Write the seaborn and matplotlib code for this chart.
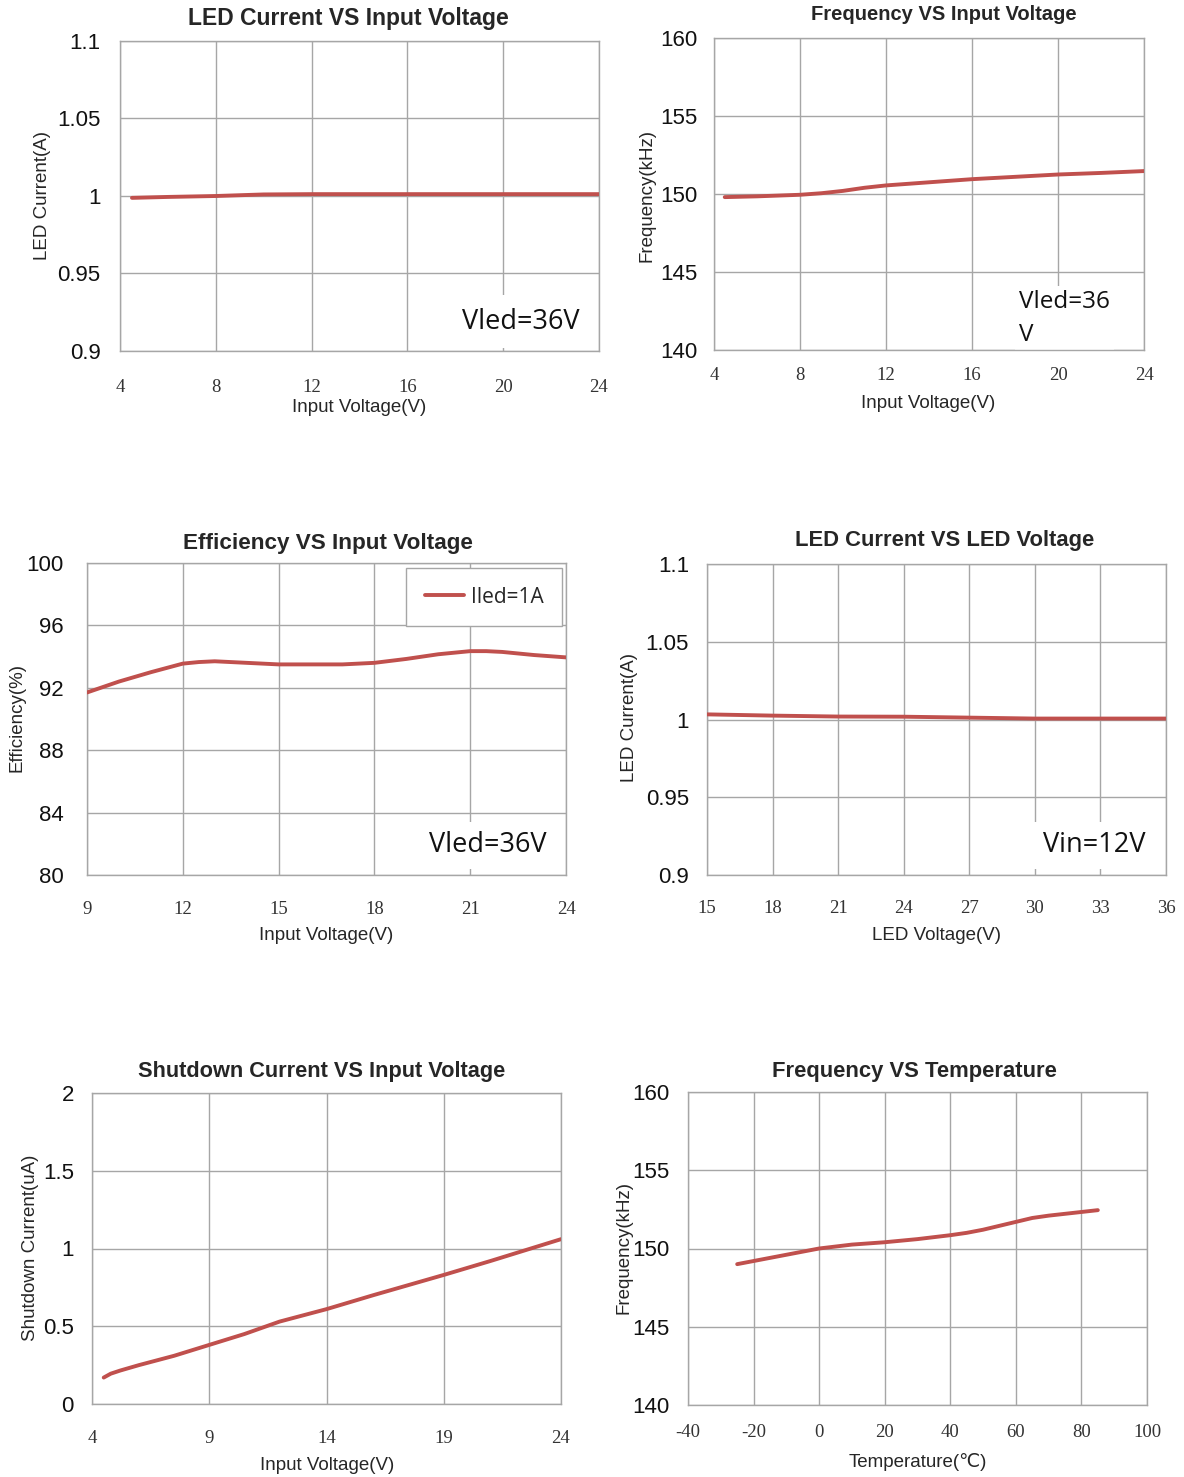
import numpy as np
import matplotlib
matplotlib.use("Agg")
import matplotlib.pyplot as plt
import seaborn as sns

# ---------------------------
# Data
# ---------------------------
vin_a = [4.5, 6, 8, 10, 12, 16, 20, 24]
iled_a = [0.9988, 0.9994, 1.0000, 1.0010, 1.0012, 1.0012, 1.0012, 1.0012]

vin_f = [4.5, 6, 8, 9, 10, 11, 12, 14, 16, 18, 20, 22, 24]
freq_v = [149.8, 149.85, 149.95, 150.05, 150.2, 150.4, 150.55, 150.75, 150.95, 151.1, 151.25, 151.35, 151.47]

vin_e = [9, 10, 11, 12, 12.5, 13, 14, 15, 16, 17, 18, 19, 20, 21, 21.5, 22, 23, 24]
eff = [91.7, 92.4, 93.0, 93.55, 93.65, 93.7, 93.6, 93.5, 93.5, 93.5, 93.6, 93.85, 94.15, 94.35, 94.35, 94.3, 94.1, 93.95]

vled = [15, 18, 21, 24, 27, 30, 33, 36]
iled_v = [1.0033, 1.0025, 1.0019, 1.0018, 1.0012, 1.0006, 1.0006, 1.0006]

vin_s = [4.5, 4.8, 5.2, 6, 7.5, 9, 10.5, 12, 14, 16, 19, 21, 24]
ishdn = [0.17, 0.195, 0.215, 0.25, 0.31, 0.38, 0.45, 0.53, 0.61, 0.70, 0.83, 0.92, 1.06]

temp = [-25, -10, 0, 10, 20, 30, 40, 45, 50, 55, 60, 65, 70, 85]
freq_t = [149.0, 149.6, 150.0, 150.25, 150.4, 150.6, 150.85, 151.0, 151.2, 151.45, 151.7, 151.95, 152.1, 152.45]

# ---------------------------
# Style
# ---------------------------
sns.set_style("white")
plt.rcParams["font.family"] = ["Liberation Sans", "DejaVu Sans"]
plt.rcParams["axes.unicode_minus"] = False

RED = "#c0504d"
GRID = "#a6a6a6"
W, H = 1184, 1477

fig = plt.figure(figsize=(W / 100, H / 100), dpi=100)


def px(x, y):
    return x / W, 1 - y / H


def make_axes(l, t, r, b, xlim, xstep, ylim, ystep, ylabels, xpad, ypad):
    ax = fig.add_axes([l / W, 1 - b / H, (r - l) / W, (b - t) / H])
    ax.set_xlim(*xlim)
    ax.set_ylim(*ylim)
    ax.set_xticks(np.arange(xlim[0], xlim[1] + 0.001, xstep))
    yt = np.arange(ylim[0], ylim[1] + ystep / 2, ystep)
    ax.set_yticks(yt)
    ax.set_yticklabels(ylabels)
    ax.grid(True, color=GRID, linewidth=1.0)
    ax.set_axisbelow(True)
    for s in ax.spines.values():
        s.set_color(GRID)
        s.set_linewidth(1.0)
    ax.tick_params(axis="both", length=0)
    ax.tick_params(axis="y", labelsize=16, pad=ypad, labelcolor="#111111")
    ax.tick_params(axis="x", labelsize=13.5, pad=xpad, labelcolor="#333333")
    for lab in ax.get_xticklabels():
        lab.set_family("Liberation Serif")
    ax.set_xlabel("")
    ax.set_ylabel("")
    return ax


def labels(title, tsize, tpos, ylab, ypos, xlab, xpos):
    fig.text(*px(*tpos), title, ha="center", va="center", fontsize=tsize, fontweight="bold")
    fig.text(*px(*ypos), ylab, ha="center", va="center", fontsize=13.5, rotation=90)
    fig.text(*px(*xpos), xlab, ha="center", va="center", fontsize=13.5,
             family=["Liberation Sans", "DejaVu Sans"])


def note(ax, x, y, s, ha="right", pad=7, size=19.5):
    # white box sits over the grid but under the frame and the curve
    ax.text(x, y, s, transform=ax.transAxes, ha=ha, va="center", fontsize=size,
            family="Open Sans", color="#111111", linespacing=1.5,
            bbox=dict(facecolor="white", edgecolor="none", pad=pad), zorder=2)


# ---------------------------
# 1. LED Current VS Input Voltage
# ---------------------------
ax1 = make_axes(120, 41, 599, 351, (4, 24), 4, (0.9, 1.1), 0.05,
                ["0.9", "0.95", "1", "1.05", "1.1"], 20, 14)
sns.lineplot(x=vin_a, y=iled_a, ax=ax1, color=RED, linewidth=2.8, zorder=4)
note(ax1, 0.96, 0.095, "Vled=36V", pad=9)
labels("LED Current VS Input Voltage", 16.5, (348, 19), "LED Current(A)", (43, 196),
       "Input Voltage(V)", (359, 407))

# ---------------------------
# 2. Frequency VS Input Voltage
# ---------------------------
ax2 = make_axes(714, 38, 1144, 350, (4, 24), 4, (140, 160), 5,
                ["140", "145", "150", "155", "160"], 12, 12)
sns.lineplot(x=vin_f, y=freq_v, ax=ax2, color=RED, linewidth=2.8, zorder=4)
note(ax2, 0.71, 0.10, "Vled=36\nV", ha="left", pad=3, size=17.5)
labels("Frequency VS Input Voltage", 14.5, (944, 14), "Frequency(kHz)", (647, 195),
       "Input Voltage(V)", (928, 403))

# ---------------------------
# 3. Efficiency VS Input Voltage
# ---------------------------
ax3 = make_axes(87, 563, 566, 875, (9, 24), 3, (80, 100), 4,
                ["80", "84", "88", "92", "96", "100"], 19, 17)
sns.lineplot(x=vin_e, y=eff, ax=ax3, color=RED, linewidth=2.8, zorder=4, label="Iled=1A")
leg = ax3.legend(loc="upper right", bbox_to_anchor=(0.992, 0.984), borderaxespad=0,
                 fancybox=False, framealpha=1, edgecolor=GRID, borderpad=0.9,
                 handlelength=1.9, handletextpad=0.3,
                 prop={"family": "Open Sans", "size": 15})
leg.get_frame().set_linewidth(1.0)
note(ax3, 0.96, 0.095, "Vled=36V")
labels("Efficiency VS Input Voltage", 16.2, (328, 543), "Efficiency(%)", (17, 718),
       "Input Voltage(V)", (326, 935))

# ---------------------------
# 4. LED Current VS LED Voltage
# ---------------------------
ax4 = make_axes(707, 564, 1166, 875, (15, 36), 3, (0.9, 1.1), 0.05,
                ["0.9", "0.95", "1", "1.05", "1.1"], 18, 13)
sns.lineplot(x=vled, y=iled_v, ax=ax4, color=RED, linewidth=2.8, zorder=4)
note(ax4, 0.955, 0.095, "Vin=12V")
labels("LED Current VS LED Voltage", 15.8, (945, 541), "LED Current(A)", (630, 718),
       "LED Voltage(V)", (937, 935))

# ---------------------------
# 5. Shutdown Current VS Input Voltage
# ---------------------------
ax5 = make_axes(92, 1093, 561, 1404, (4, 24), 5, (0, 2), 0.5,
                ["0", "0.5", "1", "1.5", "2"], 19, 13)
sns.lineplot(x=vin_s, y=ishdn, ax=ax5, color=RED, linewidth=2.8, zorder=4)
labels("Shutdown Current VS Input Voltage", 15.7, (322, 1072), "Shutdown Current(uA)", (31, 1248),
       "Input Voltage(V)", (327, 1465))

# ---------------------------
# 6. Frequency VS Temperature
# ---------------------------
ax6 = make_axes(688, 1092, 1147, 1405, (-40, 100), 20, (140, 160), 5,
                ["140", "145", "150", "155", "160"], 14, 13)
sns.lineplot(x=temp, y=freq_t, ax=ax6, color=RED, linewidth=2.8, zorder=4)
labels("Frequency VS Temperature", 15.8, (914, 1072), "Frequency(kHz)", (624, 1248),
       "Temperature(\u2103)", (918, 1462))

fig.savefig("out.png", dpi=100, facecolor="white")
